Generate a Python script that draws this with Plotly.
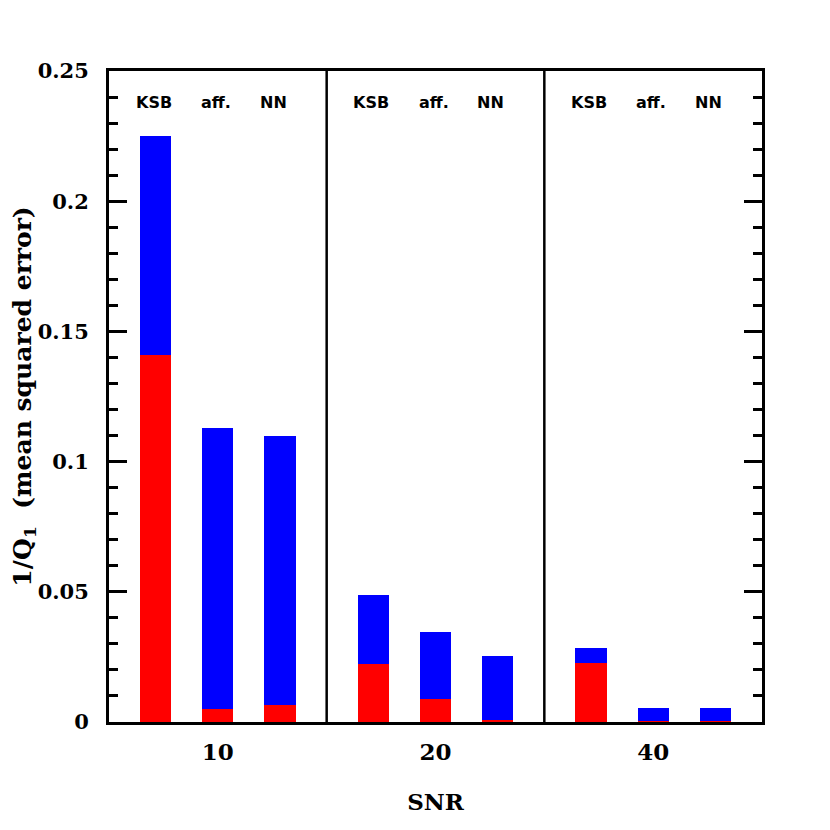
import plotly.graph_objects as go

# SNR groups and shear methods
snr_labels = ["10", "20", "40"]
methods = ["KSB", "aff.", "NN"]

# contributions to 1/Q_1, one entry per (SNR, method)
red_part = [0.141, 0.005, 0.0064, 0.0223, 0.0088, 0.0009, 0.0225, 0.0003, 0.0003]
blue_part = [0.084, 0.108, 0.1036, 0.0266, 0.0258, 0.0246, 0.0058, 0.005, 0.005]

group_step = 3.5  # 3 bars + a gap of half a bar slot
xpos = [g * group_step + m + 1 for g in range(len(snr_labels)) for m in range(len(methods))]
group_centers = [g * group_step + 2 for g in range(len(snr_labels))]
dividers = [g * group_step + 3.75 for g in range(len(snr_labels) - 1)]
label_shift = [-2, -2, -7]  # px, method names sit a bit left of the bars

serif = "DejaVu Serif"
sans = "DejaVu Sans"

fig = go.Figure()
fig.add_trace(go.Bar(x=xpos, y=red_part, width=0.5, marker=dict(color="#ff0000", line=dict(width=0)), showlegend=False))
fig.add_trace(go.Bar(x=xpos, y=blue_part, width=0.5, marker=dict(color="#0000ff", line=dict(width=0)), showlegend=False))

for d in dividers:
    fig.add_shape(type="line", x0=d, x1=d, y0=0, y1=1, xref="x", yref="y domain",
                  line=dict(color="black", width=2.5))

# method names at the top of each panel
for i, x in enumerate(xpos):
    fig.add_annotation(x=x, y=0.238, text="<b>%s</b>" % methods[i % 3], showarrow=False,
                       xshift=label_shift[i % 3], font=dict(family=sans, size=16, color="black"))

fig.update_layout(
    width=830, height=830,
    margin=dict(l=101, r=76, t=63, b=116),
    barmode="stack",
    plot_bgcolor="white", paper_bgcolor="white",
    xaxis=dict(range=[0.25, 10.75], tickvals=group_centers, ticktext=["<b>%s</b>" % s for s in snr_labels],
               ticks="", showgrid=False, zeroline=False, showline=True, linecolor="black", linewidth=3,
               mirror=True, tickfont=dict(family=serif, size=23, color="black"), ticklabelstandoff=7,
               automargin=False,
               title=dict(text="<b>SNR</b>", font=dict(family=serif, size=23, color="black"), standoff=31)),
    yaxis=dict(range=[0, 0.25], ticks="inside", ticklen=18, tickwidth=2.5, tickcolor="black",
               minor=dict(dtick=0.01, ticks="inside", ticklen=9, tickwidth=2.5, tickcolor="black", showgrid=False),
               showgrid=False, zeroline=False, showline=True, linecolor="black", linewidth=3, mirror="ticks",
               tickfont=dict(family=serif, size=21, color="black"), ticklabelstandoff=13,
               automargin=False,
               tickvals=[0, 0.05, 0.1, 0.15, 0.2, 0.25],
               ticktext=["<b>0</b>", "<b>0.05</b>", "<b>0.1</b>", "<b>0.15</b>", "<b>0.2</b>", "<b>0.25</b>"],
               title=dict(text="<b>1/Q<sub>1</sub>  (mean squared error)</b>",
                          font=dict(family=serif, size=25, color="black"), standoff=5)),
)

fig.write_html("out.html")
